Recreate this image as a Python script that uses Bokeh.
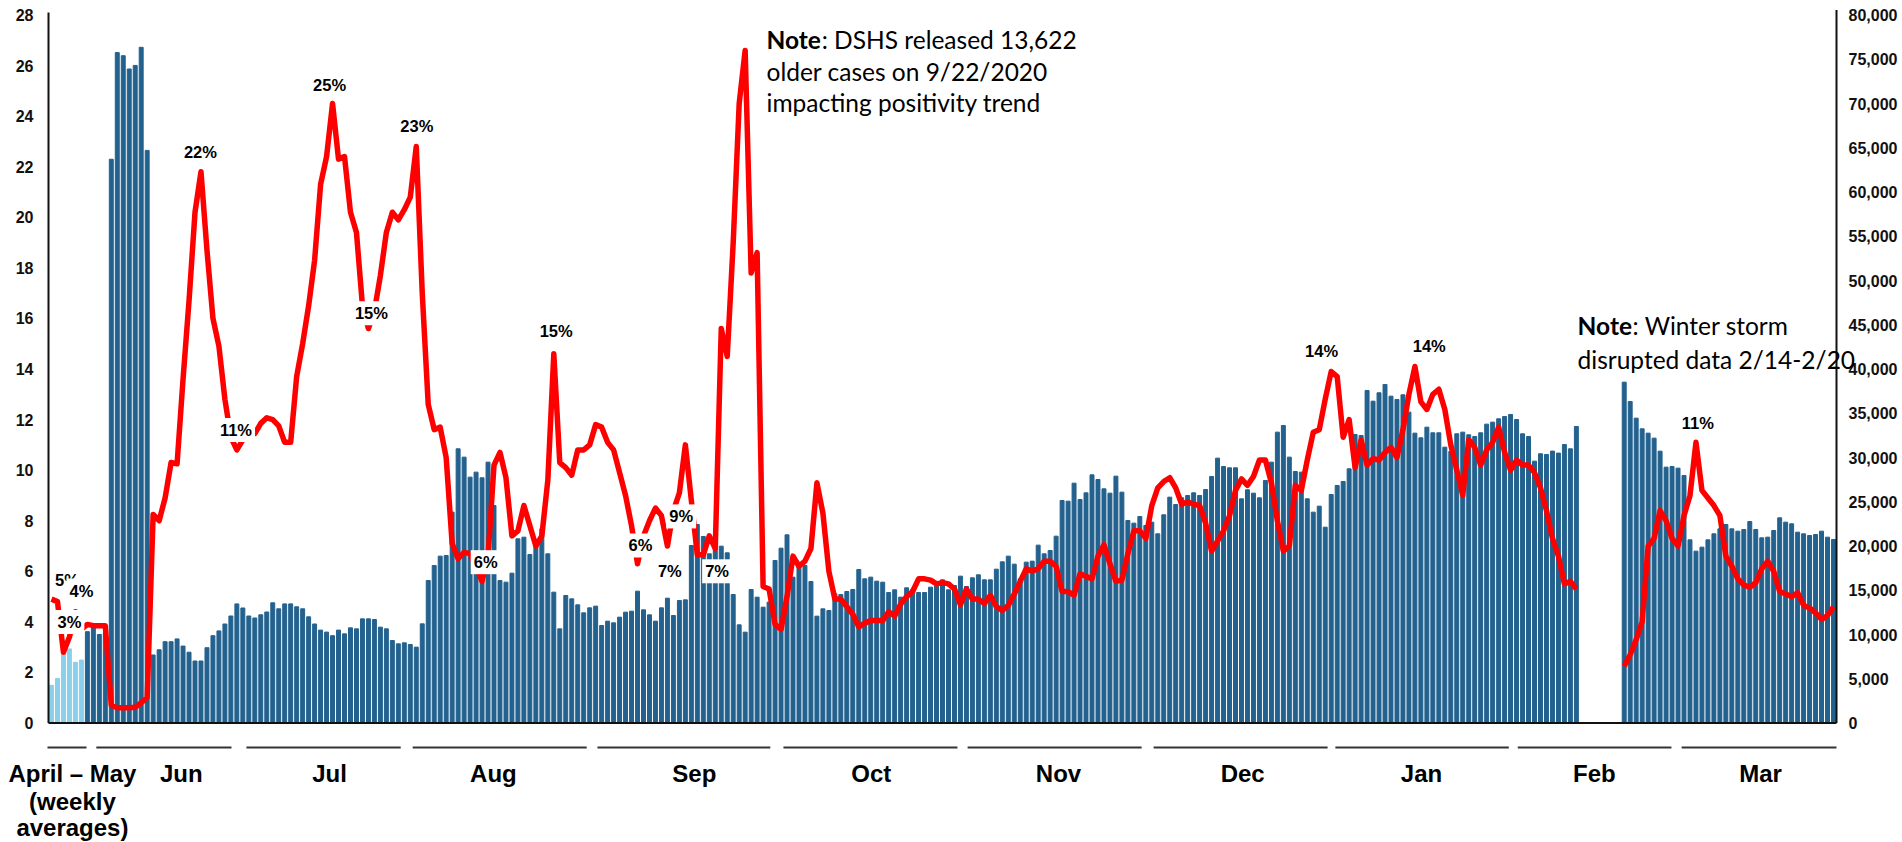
import pandas as pd
from bokeh.plotting import figure
from bokeh.models import Range1d, LinearAxis, FixedTicker, Label, ColumnDataSource, NumeralTickFormatter
from bokeh.embed import file_html
from bokeh.resources import INLINE

NAN = float("nan")

# ---------------- data ----------------
weekly_categories = ["Apr wk1", "Apr wk2", "Apr wk3", "Apr wk4", "May wk1", "May wk2"]
daily_categories = [d.strftime("%Y-%m-%d") for d in pd.date_range("2020-06-09", "2021-03-28")]
categories = weekly_categories + daily_categories

tests_weekly = [4257, 5029, 7886, 8371, 6857, 7114]
tests_jun_jul = [10318, 10750, 10000, 10200,
                 63700, 75750, 75400, 73900, 74300, 76350, 64700,
                 7684, 8272, 9187, 9187, 9503, 8690, 8000, 7006, 7006, 8509,
                 9865, 10407, 11187, 12091, 13458, 12995, 12091, 11865, 12227, 12543,
                 13583, 12905, 13458, 13458, 13131, 12905, 12000, 11187, 10497, 10272,
                 9865, 10497]
tests_jul_sep = [10076, 10754, 10641, 11771, 11771, 11696, 10830, 10641, 9323, 8946,
                 9059, 8871, 8570, 11206, 16103, 17798, 18853, 18928, 23825, 30983,
                 30042, 27782, 28347, 27707, 29477, 24578, 16103, 15914, 16931, 20809,
                 20997, 19041, 20433, 21940, 19117, 14784, 10641, 14408, 14031, 13353,
                 12449, 13015, 13203, 11018, 11507, 11319, 11959, 12524, 12637, 14897]
tests_sep_nov = [12788, 12223, 11507, 13015, 14106, 12148, 13843, 13918, 20058, 22431,
                 21075, 19117, 19983, 19983, 19230, 14521, 11093, 10264, 15086, 14219,
                 13089, 13655, 18363, 19756, 21263, 16480, 17685, 17798, 15990, 12072,
                 12901, 12713, 14596, 14521, 14860, 15086, 17346, 16291, 16480, 16028,
                 15914, 14747, 15048, 14219, 15274, 15086, 14747, 14747, 15349, 15462]
tests_nov_dec = [16178, 15048, 15538, 16593, 15425, 16404, 16743, 16178, 16178, 17383,
                 18213, 18853, 17949, 16291, 18176, 18288, 20096, 19117, 19493, 21112,
                 25143, 25067, 27100, 25255, 26009, 28043, 27515, 26461, 25971, 27892,
                 26084, 22883, 22582, 23335, 22318, 22695, 21376, 23523, 25519, 24691,
                 25444, 25708, 26009, 25708, 26386, 27855, 29928, 28985, 28834, 28834]
tests_dec_feb = [25331, 26348, 25971, 25444, 27403, 29477, 32867, 33618, 30042, 28420,
                 28347, 25331, 23825, 24503, 22129, 25821, 26838, 27290, 28721, 32601,
                 32488, 37573, 36367, 37310, 38251, 36932, 36556, 37084, 35126, 32752,
                 32225, 33430, 32790, 32790, 31170, 30680, 32677, 32865, 32564, 32375,
                 32790, 33769, 33995, 34371, 34635, 34861, 34296, 32677, 32375, 29590]
tests_feb = [30419, 30344, 30721, 30495, 31471, 30980, 33505]
tests_storm_gap = [NAN] * 7
tests_feb_mar = [38514, 36330, 34447, 33241, 32752, 32187, 30717, 28909, 28985, 28796,
                 27968, 20698, 19418, 19870, 20698, 21376, 21941, 22431, 21941, 21677,
                 21866, 22770, 21866, 20923, 20998, 21753, 23184, 22695, 22506, 21565,
                 21376, 21188, 21300, 21677, 20998, 20736]
tests = (tests_weekly + tests_jun_jul + tests_jul_sep + tests_sep_nov + tests_nov_dec
         + tests_dec_feb + tests_feb + tests_storm_gap + tests_feb_mar)

positivity = [
    4.9, 4.8, 2.8, 3.4, 4.4, 3.7, 3.9, 3.85, 3.85, 3.85,
    0.7, 0.6, 0.6, 0.6, 0.62, 0.8, 1.0, 8.25, 8.0, 8.9,
    10.3, 10.25, 13.6, 16.7, 20.2, 21.8, 18.7, 16.0, 14.9, 12.8,
    11.3, 10.8, 11.2, 11.3, 11.45, 11.85, 12.07, 12.0, 11.75, 11.1,
    11.1, 13.7, 15.0, 16.5, 18.3, 21.3, 22.4, 24.5, 22.3, 22.4,
    20.2, 19.4, 16.5, 15.6, 16.3, 17.7, 19.4, 20.2, 19.9, 20.3,
    20.8, 22.8, 17.0, 12.6, 11.6, 11.7, 10.5, 7.1, 6.5, 6.75,
    6.7, 6.2, 5.6, 6.6, 10.2, 10.7, 9.7, 7.4, 7.6, 8.6,
    7.8, 7.0, 7.4, 9.6, 14.6, 10.3, 10.1, 9.8, 10.8, 10.8,
    11.0, 11.8, 11.7, 11.1, 10.8, 9.9, 9.0, 7.8, 6.3, 7.4,
    8.0, 8.5, 8.2, 7.0, 8.4, 9.1, 11.0, 8.8, 6.65, 6.65,
    7.4, 6.9, 15.6, 14.5, 19.0, 24.5, 26.6, 17.8, 18.6, 5.4,
    5.3, 3.9, 3.7, 5.0, 6.6, 6.2, 6.4, 6.9, 9.5, 8.3,
    6.0, 4.9, 4.9, 4.6, 4.3, 3.8, 3.95, 4.05, 4.05, 4.05,
    4.4, 4.23, 4.7, 5.0, 5.2, 5.7, 5.7, 5.65, 5.5, 5.55,
    5.5, 5.3, 4.68, 5.3, 4.9, 4.9, 4.72, 5.05, 4.6, 4.45,
    4.65, 5.1, 5.6, 6.1, 6.0, 6.1, 6.4, 6.4, 6.2, 5.2,
    5.2, 5.05, 5.9, 5.8, 5.7, 6.6, 7.05, 6.3, 5.6, 5.65,
    6.7, 7.6, 7.6, 7.3, 8.6, 9.3, 9.55, 9.7, 9.3, 8.65,
    8.75, 8.65, 8.6, 7.9, 6.8, 7.2, 7.6, 8.2, 9.2, 9.65,
    9.4, 9.75, 10.4, 10.4, 9.5, 8.0, 6.8, 7.0, 9.4, 9.2,
    10.4, 11.5, 11.6, 12.8, 13.9, 13.7, 11.3, 12.0, 10.1, 11.2,
    10.2, 10.45, 10.4, 10.7, 10.9, 10.5, 11.6, 13.0, 14.1, 12.7,
    12.4, 13.0, 13.2, 12.4, 11.0, 10.0, 9.0, 11.2, 10.9, 10.2,
    10.8, 11.1, 11.7, 10.7, 10.0, 10.4, 10.2, 10.2, 9.9, 9.3,
    8.4, 7.3, 6.6, 5.5, 5.6, 5.3,
    NAN, NAN, NAN, NAN, NAN, NAN, NAN,
    2.25, 2.7, 3.3, 4.0, 7.0, 7.3, 8.4, 8.0, 7.3, 7.0,
    8.2, 9.0, 11.1, 9.2, 8.9, 8.6, 8.2, 6.6, 6.2, 5.7,
    5.45, 5.37, 5.55, 6.1, 6.4, 6.0, 5.2, 5.1, 5.0, 5.15,
    4.65, 4.55, 4.35, 4.1, 4.25, 4.6,
]

left_ticks = list(range(0, 29, 2))
right_ticks = list(range(0, 80001, 5000))

# data labels on the positivity line: (text, category position, % level)
pct_labels = [
    ("5%", 2.6, 5.67), ("3%", 3.0, 3.99), ("4%", 5.0, 5.24),
    ("22%", 24.9, 22.6), ("11%", 30.85, 11.59), ("25%", 46.5, 25.25),
    ("15%", 53.5, 16.2), ("23%", 61.1, 23.6), ("6%", 72.6, 6.36),
    ("15%", 84.4, 15.5), ("6%", 98.5, 7.02), ("7%", 103.4, 6.0),
    ("9%", 105.3, 8.17), ("7%", 111.3, 6.0), ("14%", 212.4, 14.7),
    ("14%", 230.4, 14.9), ("11%", 275.3, 11.86),
]

# month groups under the axis: (label lines, span start, span end, label centre)
month_groups = [
    (["April \u2013 May", "(weekly", "averages)"], -0.67, 5.85, 3.5),
    (["Jun"], 7.5, 30.1, 21.7), (["Jul"], 32.6, 58.4, 46.5),
    (["Aug"], 60.4, 89.5, 73.9), (["Sep"], 91.3, 120.2, 107.5),
    (["Oct"], 122.4, 151.5, 137.1), (["Nov"], 153.2, 182.3, 168.4),
    (["Dec"], 184.3, 213.4, 199.2), (["Jan"], 214.7, 243.7, 229.1),
    (["Feb"], 245.2, 270.9, 258.0), (["Mar"], 272.6, 298.5, 285.8),
]

# ---------------- layout ----------------
N = len(categories)
FIG_W, FIG_H = 1902, 842
AX_LEFT, AX_RIGHT = 48, 1836        # pixel x of the two value axes
AX_TOP, AX_BOTTOM = 14.5, 722.5     # pixel y of 28 % and of 0
PX = (AX_RIGHT - AX_LEFT) / N
PXY = (AX_BOTTOM - AX_TOP) / 28
X0 = -0.5 - AX_LEFT / PX
X1 = N - 0.5 + (FIG_W - AX_RIGHT) / PX
Y_MAX = 28 + AX_TOP / PXY
Y_MIN = -(FIG_H - AX_BOTTOM) / PXY
C_SCALE = 80000 / 28

p = figure(width=FIG_W, height=FIG_H, output_backend="svg", toolbar_location=None,
           x_axis_location=None, y_axis_location=None,
           x_range=Range1d(X0, X1), y_range=Range1d(Y_MIN, Y_MAX),
           min_border_left=0, min_border_right=0, min_border_top=0, min_border_bottom=0)
p.outline_line_color = None
p.background_fill_color = "white"
p.border_fill_color = "white"
p.xgrid.grid_line_color = None
p.ygrid.grid_line_color = None
p.extra_y_ranges = {"cases": Range1d(Y_MIN * C_SCALE, Y_MAX * C_SCALE)}

idx = list(range(N))
bar_colors = ["#8BCFEA"] * len(weekly_categories) + ["#23618E"] * len(daily_categories)
src = ColumnDataSource(dict(x=idx, cat=categories, tests=tests, pos=positivity, color=bar_colors))

p.vbar(x="x", top="tests", bottom=0, width=0.66, color="color", source=src, y_range_name="cases")
p.line(x="x", y="pos", source=src, line_color="#FF0000", line_width=5.5, line_join="round")

# axis lines
p.segment(x0=[-0.5, N - 0.5, -0.5], y0=[0, 0, 0], x1=[-0.5, N - 0.5, N - 0.5], y1=[28.1, 28.2, 0],
          line_color="#111111", line_width=2)

tick_font = "Liberation Sans"
left_axis = LinearAxis(ticker=FixedTicker(ticks=left_ticks), fixed_location=-0.5)
right_axis = LinearAxis(y_range_name="cases", ticker=FixedTicker(ticks=right_ticks),
                        formatter=NumeralTickFormatter(format="0,0"), fixed_location=N - 0.5)
for ax, standoff in ((left_axis, 9), (right_axis, 6)):
    ax.axis_line_color = None
    ax.major_tick_line_color = None
    ax.minor_tick_line_color = None
    ax.major_label_standoff = standoff
    ax.major_label_text_font = tick_font
    ax.major_label_text_font_style = "bold"
    ax.major_label_text_font_size = "16px"
    ax.major_label_text_color = "#111111"
p.add_layout(left_axis, "left")
p.add_layout(right_axis, "right")

# month groups
GROUP_Y = -0.97
LABEL_Y = [-1.99, -3.12, -4.12]
p.segment(x0=[g[1] for g in month_groups], x1=[g[2] for g in month_groups],
          y0=[GROUP_Y] * len(month_groups), y1=[GROUP_Y] * len(month_groups),
          line_color="#333333", line_width=2)
for lines, _, _, cx in month_groups:
    for k, t in enumerate(lines):
        p.add_layout(Label(x=cx, y=LABEL_Y[k], text=t, text_font="Liberation Sans",
                           text_font_style="bold", text_font_size="24px", text_color="black",
                           text_align="center", text_baseline="middle"))

# percentage data labels
for t, x, y in pct_labels:
    p.add_layout(Label(x=x, y=y, text=t, text_font=tick_font, text_font_style="bold",
                       text_font_size="16.5px", text_color="black", text_align="center",
                       text_baseline="middle", background_fill_color="white", padding=3))

# notes
NOTE_FONT = "Lato"
def note(x, y, text, bold=False):
    p.add_layout(Label(x=x, y=y, text=text, text_font=NOTE_FONT, text_font_size="24.5px",
                       text_font_style="bold" if bold else "normal", text_color="black",
                       text_align="left", text_baseline="middle"))

note(119.57, 27.03, "Note", bold=True)
note(128.8, 27.03, ": DSHS released 13,622")
note(119.57, 25.78, "older cases on 9/22/2020")
note(119.57, 24.53, "impacting positivity trend")
note(255.2, 15.72, "Note", bold=True)
note(264.4, 15.72, ": Winter storm")
note(255.2, 14.38, "disrupted data 2/14-2/20")

open("out.html", "w").write(file_html(p, INLINE))
